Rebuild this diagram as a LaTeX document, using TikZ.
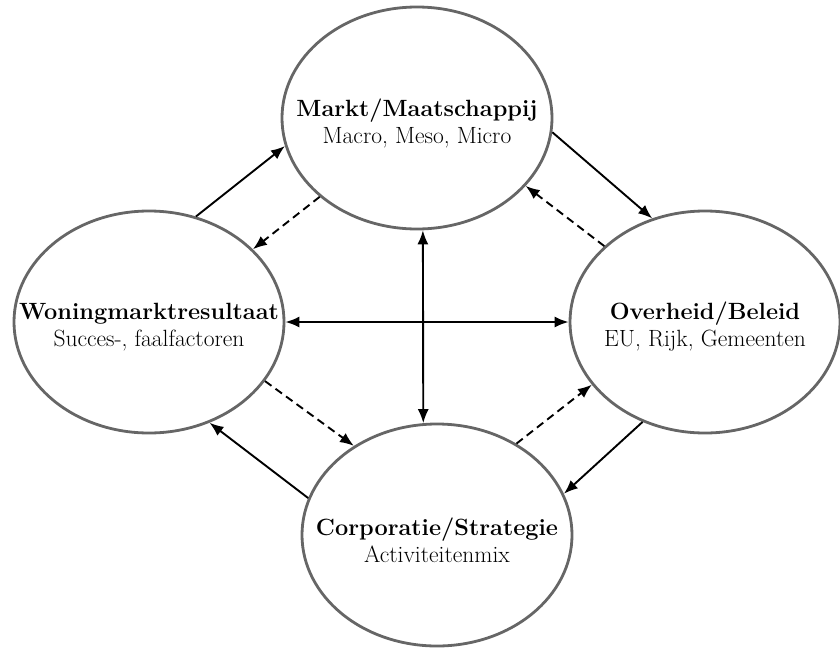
\documentclass[tikz,border=0pt]{standalone}
\usepackage{tikz}
\usetikzlibrary{shapes.geometric}
\usetikzlibrary{arrows.meta}
\newcommand{\blob}[5]{\node[blob] (#1) at ( #2 , #3 ) {}; \node[blobtext] (#1-t) at (#1) {\textbf{#4}\\#5};}
\tikzset{
  blob/.style={ellipse, draw=black!60, line width=2.8pt, minimum width=270pt, minimum height=222pt, inner sep=0pt},
  blobtext/.style={align=center, font=\fontsize{23.5}{27}\selectfont, yshift=-5pt},
  flow/.style={line width=1.9pt, -{Latex[length=14pt,width=11pt]}},
  both/.style={line width=1.9pt, {Latex[length=14pt,width=11pt]}-{Latex[length=14pt,width=11pt]}},
  back/.style={flow, dash pattern=on 8pt off 5pt}
}

\begin{document}
\begin{tikzpicture}[x=1pt, y=-1pt]
            \useasboundingbox (0,0) rectangle (840,648);
            % ellipses
            \blob{markt}{417}{118}{Markt/Maatschappij}{Macro, Meso, Micro}
            \blob{woning}{149}{322}{Woningmarktresultaat}{Succes-, faalfactoren}
            \blob{overheid}{705}{322}{Overheid/Beleid}{EU, Rijk, Gemeenten}
            \blob{corp}{437}{535}{Corporatie/Strategie}{Activiteitenmix}
            % cross
            \draw[both] (woning.east) -- (overheid.west);
            \draw[both] (markt.-87) -- (corp.97);
            % solid, clockwise
            \draw[flow] (woning.66) -- (markt.192);
            \draw[flow] (markt.-6) -- (overheid.117);
            \draw[flow] (overheid.238) -- (corp.18);
            \draw[flow] (corp.164) -- (woning.-59);
            % dashed, counter clockwise
            \draw[back] (markt.219) -- (woning.35);
            \draw[back] (woning.-27) -- (corp.133);
            \draw[back] (corp.49) -- (overheid.209);
            \draw[back] (overheid.143) -- (markt.-32);
        \end{tikzpicture}
\end{document}
